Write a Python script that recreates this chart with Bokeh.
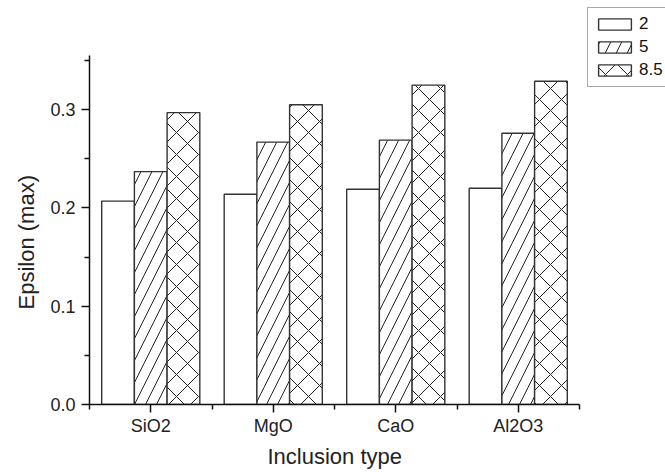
from bokeh.plotting import figure
from bokeh.models import FixedTicker, Range1d, Legend, LegendItem, PrintfTickFormatter, Title
from bokeh.embed import file_html
from bokeh.resources import INLINE

categories = ["SiO2", "MgO", "CaO", "Al2O3"]
series_names = ["2", "5", "8.5"]
vals_2 = [0.207, 0.214, 0.219, 0.220]
vals_5 = [0.237, 0.267, 0.269, 0.276]
vals_85 = [0.297, 0.305, 0.325, 0.329]
y_ticks = [0.0, 0.1, 0.2, 0.3]
y_minor = [0.05, 0.15, 0.25, 0.35]

series = [vals_2, vals_5, vals_85]
hatches = [" ", "right_diagonal_line", "diagonal_cross"]
bar_w = 0.267
offsets = [-bar_w, 0.0, bar_w]

FONT = "Liberation Sans"

# frame spans to the top/right edges so the legend can sit above/right of the axes;
# axis bounds keep the visible axes to the data area
p = figure(width=665, height=472, output_backend="svg", toolbar_location=None,
           x_range=Range1d(0, 4.702), y_range=Range1d(0, 0.4111),
           min_border_left=89, min_border_right=0, min_border_top=0, min_border_bottom=65)
p.outline_line_color = None
p.xgrid.visible = False
p.ygrid.visible = False

items = []
centers = [i + 0.5 for i in range(len(categories))]
for k, (vals, hp, off) in enumerate(zip(series, hatches, offsets)):
    xs = [c + off for c in centers]
    r = p.vbar(x=xs, top=vals, width=bar_w, bottom=0,
               fill_color="white", line_color="#333333", line_width=1.4,
               hatch_pattern=hp, hatch_color="#222222", hatch_scale=22, hatch_weight=1.0)
    items.append(LegendItem(label=series_names[k], renderers=[r]))

for ax in (p.xaxis[0], p.yaxis[0]):
    ax.axis_line_width = 1.5
    ax.axis_line_color = "#111111"
    ax.major_tick_line_color = "#111111"
    ax.minor_tick_line_color = "#111111"
    ax.major_tick_line_width = 1.5
    ax.minor_tick_line_width = 1.5
    ax.major_tick_in = 0
    ax.major_tick_out = 8
    ax.minor_tick_in = 0
    ax.minor_tick_out = 5
    ax.major_label_text_font = FONT
    ax.major_label_text_font_size = "18px"
    ax.major_label_text_color = "#222222"

xa = p.xaxis[0]
xa.ticker = FixedTicker(ticks=centers, minor_ticks=[0, 1, 2, 3, 4])
xa.major_label_overrides = {c: name for c, name in zip(centers, categories)}
xa.bounds = (0, 4)
xa.major_label_standoff = 3

ya = p.yaxis[0]
ya.ticker = FixedTicker(ticks=y_ticks, minor_ticks=y_minor)
ya.formatter = PrintfTickFormatter(format="%.1f")
ya.bounds = (0, 0.355)
ya.major_label_standoff = 6

p.add_layout(Title(text="Epsilon (max)", align="left", offset=95, standoff=18,
                   text_font=FONT, text_font_size="22px", text_font_style="normal",
                   text_color="#222222"), "left")
p.add_layout(Title(text="Inclusion type", align="left", offset=178, standoff=7,
                   text_font=FONT, text_font_size="22px", text_font_style="normal",
                   text_color="#222222"), "below")

legend = Legend(items=items, location=(498, 317),
                label_text_font=FONT, label_text_font_size="17px", label_text_color="#111111",
                glyph_width=41, glyph_height=14, spacing=3, padding=6, margin=0,
                label_standoff=4, label_height=14, label_width=70,
                border_line_color="#555555", border_line_width=1,
                background_fill_color="white", background_fill_alpha=1.0)
p.add_layout(legend, "center")

open("out.html", "w").write(file_html(p, INLINE))
